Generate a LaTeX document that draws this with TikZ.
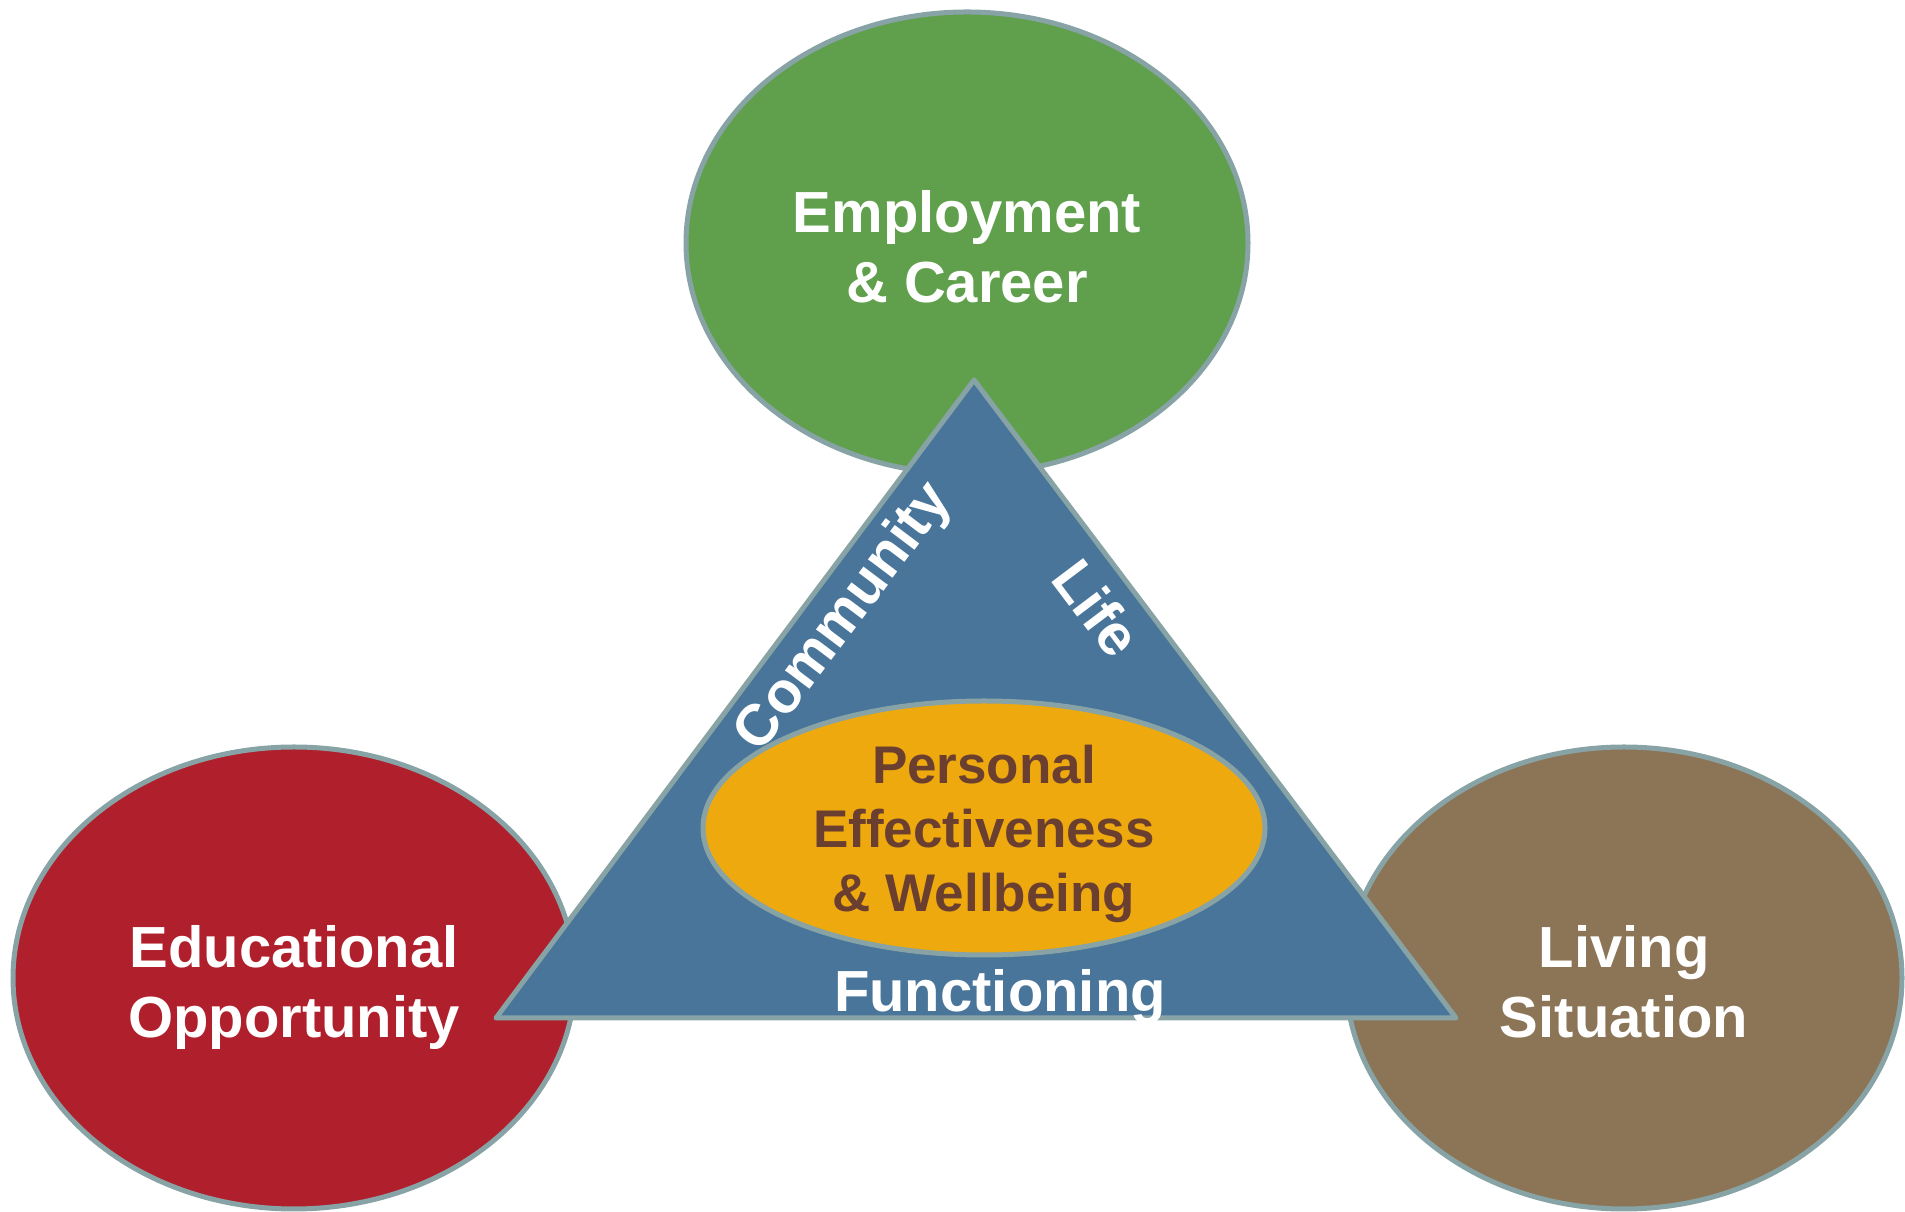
\documentclass[tikz,border=0pt]{standalone}
\usepackage{fontspec}
\setmainfont{Liberation Sans}
\usetikzlibrary{shapes.geometric}
\definecolor{rim}{HTML}{87A3A5}
\definecolor{careergreen}{HTML}{60A04C}
\definecolor{edured}{HTML}{B0202C}
\definecolor{livingbrown}{HTML}{8B7556}
\definecolor{lifeblue}{HTML}{487599}
\definecolor{coreyellow}{HTML}{EEA90F}
\definecolor{coretext}{HTML}{6B3F2F}
\tikzset{
  lifearea/.style={ellipse,draw=rim,line width=5pt,inner sep=0pt,minimum width=562pt,minimum height=462pt,text=white,align=center,font=\fontsize{58}{70}\selectfont\bfseries},
  edgetext/.style={text=white,font=\fontsize{58}{70}\selectfont\bfseries,inner sep=0pt}
}

\begin{document}
\begin{tikzpicture}[x=1pt,y=1pt]
    \useasboundingbox (0,0) rectangle (1905,1212);
    \coordinate (Top) at (974,832);
    \coordinate (Left) at (496,194);
    \coordinate (Right) at (1456,194);
    \node[lifearea,fill=careergreen] (Career) at (967,969) {};
    \node[lifearea,fill=edured] (Education) at (294,234) {};
    \node[lifearea,fill=livingbrown,minimum width=556pt] (Living) at (1624,234) {};
    \node[lifearea,draw=none,fill=none,yshift=-4pt] (CareerText) at (Career) {Employment\\\& Career};
    \node[lifearea,draw=none,fill=none,yshift=-10pt] (EducationText) at (Education) {Educational\\Opportunity};
    \node[lifearea,draw=none,fill=none,yshift=-4pt] (LivingText) at (Living) {Living\\Situation};
    \draw[draw=rim,fill=lifeblue,line width=5pt,line join=round] (Top)--(Left)--(Right)--cycle;
    \node[ellipse,draw=rim,fill=coreyellow,line width=5pt,inner sep=0pt,minimum width=562pt,minimum height=254pt] (Core) at (984,384) {};
    \node[text=coretext,align=center,font=\fontsize{53}{64}\selectfont\bfseries,yshift=-6pt] (CoreText) at (Core) {Personal\\Effectiveness\\\& Wellbeing};
    \node[edgetext,rotate=53] (Community) at (845,594) {Community};
    \node[edgetext,rotate=-53] (Life) at (1097,604) {Life};
    \node[edgetext,anchor=base] (Functioning) at (1000,200) {Functioning};
\end{tikzpicture}
\end{document}
